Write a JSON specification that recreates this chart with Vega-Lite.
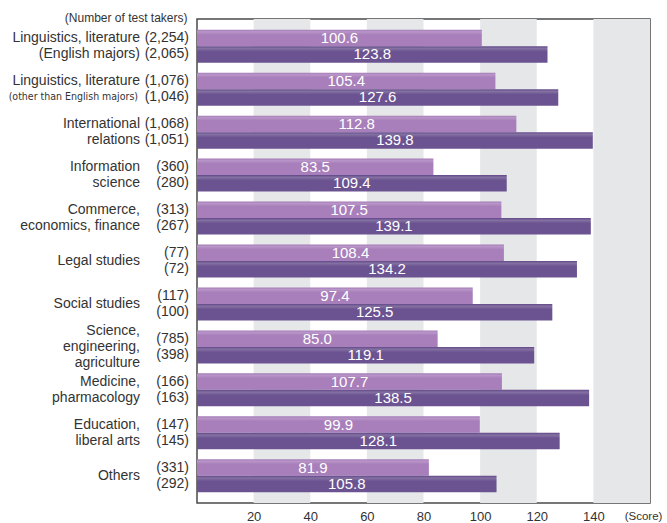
{
  "$schema": "https://vega.github.io/schema/vega-lite/v6.json",
  "width": 453,
  "height": 484,
  "autosize": {"type": "none"},
  "padding": {"left": 197, "top": 19, "right": 17, "bottom": 20},
  "background": "white",
  "config": {
    "view": {"stroke": "#4a4a4a", "strokeWidth": 1.5},
    "font": "Liberation Sans",
    "text": {"font": "Liberation Sans"}
  },
  "datasets": {
    "bands": [
      {"start": 20, "end": 40},
      {"start": 60, "end": 80},
      {"start": 100, "end": 120},
      {"start": 140, "end": 160}
    ],
    "cats": [
      {"cat": "ling_en", "name": "Linguistics, literature\n(English majors)"},
      {"cat": "ling_other", "name": "Linguistics, literature\n", "sub": "(other than English majors)"},
      {"cat": "intl", "name": "International\nrelations"},
      {"cat": "info", "name": "Information\nscience"},
      {"cat": "commerce", "name": "Commerce,\neconomics, finance"},
      {"cat": "legal", "name": "Legal studies"},
      {"cat": "social", "name": "Social studies"},
      {"cat": "science", "name": "Science,\nengineering,\nagriculture"},
      {"cat": "medicine", "name": "Medicine,\npharmacology"},
      {"cat": "education", "name": "Education,\nliberal arts"},
      {"cat": "others", "name": "Others"}
    ],
    "scores": [
      {"cat": "ling_en", "series": "A", "score": 100.6, "takers": "(2,254)"},
      {"cat": "ling_en", "series": "B", "score": 123.8, "takers": "(2,065)"},
      {"cat": "ling_other", "series": "A", "score": 105.4, "takers": "(1,076)"},
      {"cat": "ling_other", "series": "B", "score": 127.6, "takers": "(1,046)"},
      {"cat": "intl", "series": "A", "score": 112.8, "takers": "(1,068)"},
      {"cat": "intl", "series": "B", "score": 139.8, "takers": "(1,051)"},
      {"cat": "info", "series": "A", "score": 83.5, "takers": "(360)"},
      {"cat": "info", "series": "B", "score": 109.4, "takers": "(280)"},
      {"cat": "commerce", "series": "A", "score": 107.5, "takers": "(313)"},
      {"cat": "commerce", "series": "B", "score": 139.1, "takers": "(267)"},
      {"cat": "legal", "series": "A", "score": 108.4, "takers": "(77)"},
      {"cat": "legal", "series": "B", "score": 134.2, "takers": "(72)"},
      {"cat": "social", "series": "A", "score": 97.4, "takers": "(117)"},
      {"cat": "social", "series": "B", "score": 125.5, "takers": "(100)"},
      {"cat": "science", "series": "A", "score": 85.0, "takers": "(785)"},
      {"cat": "science", "series": "B", "score": 119.1, "takers": "(398)"},
      {"cat": "medicine", "series": "A", "score": 107.7, "takers": "(166)"},
      {"cat": "medicine", "series": "B", "score": 138.5, "takers": "(163)"},
      {"cat": "education", "series": "A", "score": 99.9, "takers": "(147)"},
      {"cat": "education", "series": "B", "score": 128.1, "takers": "(145)"},
      {"cat": "others", "series": "A", "score": 81.9, "takers": "(331)"},
      {"cat": "others", "series": "B", "score": 105.8, "takers": "(292)"}
    ]
  },
  "layer": [
    {
      "data": {"name": "bands"},
      "mark": {"type": "rect", "color": "#e6e7e9"},
      "encoding": {
        "x": {
          "field": "start", "type": "quantitative",
          "scale": {"domain": [0, 160], "nice": false, "zero": true},
          "axis": {
            "values": [20, 40, 60, 80, 100, 120, 140],
            "domain": false, "ticks": false, "grid": false,
            "labelFontSize": 13, "labelColor": "#333333", "labelPadding": 7,
            "labelFont": "Liberation Sans",
            "title": "(Score)", "titleFontSize": 11.5, "titleFontWeight": "normal",
            "titleColor": "#333333", "titleX": 446, "titleY": 13,
            "titleAlign": "center", "titleBaseline": "middle", "titleFont": "Liberation Sans"
          }
        },
        "x2": {"field": "end"}
      }
    },
    {
      "data": {"name": "scores"},
      "transform": [{"filter": "datum.series === 'A'"}],
      "mark": {
        "type": "bar",
        "color": {
          "gradient": "linear", "x1": 0, "y1": 0, "x2": 0, "y2": 1,
          "stops": [
            {"offset": 0, "color": "#a37bb6"},
            {"offset": 0.12, "color": "#b895c8"},
            {"offset": 0.3, "color": "#a87fba"},
            {"offset": 1, "color": "#a87fba"}
          ]
        }
      },
      "encoding": {
        "y": {
          "field": "cat", "type": "nominal", "sort": null,
          "scale": {
            "domain": ["ling_en", "ling_other", "intl", "info", "commerce", "legal", "social", "science", "medicine", "education", "others"],
            "paddingInner": 0.232, "paddingOuter": 0.25
          },
          "axis": {
            "labels": false, "domain": false, "ticks": false, "grid": false,
            "title": "(Number of test takers)", "titleAngle": 0, "titleAlign": "right",
            "titleBaseline": "middle", "titleX": -10, "titleY": -2,
            "titleFontSize": 12, "titleFontWeight": "normal", "titleColor": "#333333",
            "titleFont": "Liberation Sans"
          }
        },
        "yOffset": {"field": "series", "type": "nominal", "scale": {"domain": ["A", "B"], "paddingInner": 0, "paddingOuter": 0}},
        "x": {"field": "score", "type": "quantitative", "scale": {"domain": [0, 160], "nice": false, "zero": true}}
      }
    },
    {
      "data": {"name": "scores"},
      "transform": [{"filter": "datum.series === 'B'"}],
      "mark": {
        "type": "bar",
        "color": {
          "gradient": "linear", "x1": 0, "y1": 0, "x2": 0, "y2": 1,
          "stops": [
            {"offset": 0, "color": "#62498a"},
            {"offset": 0.14, "color": "#8471a2"},
            {"offset": 0.32, "color": "#6b5391"},
            {"offset": 1, "color": "#6b5391"}
          ]
        }
      },
      "encoding": {
        "y": {"field": "cat", "type": "nominal", "sort": null},
        "yOffset": {"field": "series", "type": "nominal", "scale": {"domain": ["A", "B"], "paddingInner": 0, "paddingOuter": 0}},
        "x": {"field": "score", "type": "quantitative", "scale": {"domain": [0, 160], "nice": false, "zero": true}}
      }
    },
    {
      "data": {"name": "scores"},
      "mark": {"type": "text", "color": "white", "fontSize": 15, "align": "center", "baseline": "middle", "font": "Liberation Sans"},
      "encoding": {
        "y": {"field": "cat", "type": "nominal", "sort": null},
        "yOffset": {"field": "series", "type": "nominal", "scale": {"domain": ["A", "B"], "paddingInner": 0, "paddingOuter": 0}},
        "x": {"field": "score", "type": "quantitative", "stack": "zero", "bandPosition": 0.5, "scale": {"domain": [0, 160], "nice": false, "zero": true}},
        "text": {"field": "score", "type": "quantitative", "format": ".1f"}
      }
    },
    {
      "data": {"name": "scores"},
      "mark": {"type": "text", "color": "#333333", "fontSize": 14, "align": "right", "baseline": "middle", "dx": -8, "font": "Liberation Sans"},
      "encoding": {
        "y": {"field": "cat", "type": "nominal", "sort": null},
        "yOffset": {"field": "series", "type": "nominal", "scale": {"domain": ["A", "B"], "paddingInner": 0, "paddingOuter": 0}},
        "x": {"datum": 0, "type": "quantitative", "scale": {"domain": [0, 160], "nice": false, "zero": true}},
        "text": {"field": "takers", "type": "nominal"}
      }
    },
    {
      "data": {"name": "cats"},
      "transform": [{"filter": "length(split(datum.name, '\\n')) === 1"}],
      "mark": {"type": "text", "color": "#333333", "fontSize": 14, "align": "right", "baseline": "middle", "dx": -57, "font": "Liberation Sans"},
      "encoding": {
        "y": {"field": "cat", "type": "nominal", "sort": null},
        "x": {"datum": 0, "type": "quantitative", "scale": {"domain": [0, 160], "nice": false, "zero": true}},
        "text": {"field": "name", "type": "nominal"}
      }
    },
    {
      "data": {"name": "cats"},
      "transform": [{"filter": "length(split(datum.name, '\\n')) === 2"}],
      "mark": {"type": "text", "color": "#333333", "fontSize": 14, "align": "right", "baseline": "middle", "dx": -57, "dy": -8, "lineBreak": "\n", "lineHeight": 16, "font": "Liberation Sans"},
      "encoding": {
        "y": {"field": "cat", "type": "nominal", "sort": null},
        "x": {"datum": 0, "type": "quantitative", "scale": {"domain": [0, 160], "nice": false, "zero": true}},
        "text": {"field": "name", "type": "nominal"}
      }
    },
    {
      "data": {"name": "cats"},
      "transform": [{"filter": "length(split(datum.name, '\\n')) === 3"}],
      "mark": {"type": "text", "color": "#333333", "fontSize": 14, "align": "right", "baseline": "middle", "dx": -57, "dy": -16, "lineBreak": "\n", "lineHeight": 16, "font": "Liberation Sans"},
      "encoding": {
        "y": {"field": "cat", "type": "nominal", "sort": null},
        "x": {"datum": 0, "type": "quantitative", "scale": {"domain": [0, 160], "nice": false, "zero": true}},
        "text": {"field": "name", "type": "nominal"}
      }
    },
    {
      "data": {"name": "cats"},
      "transform": [{"filter": "isValid(datum.sub)"}],
      "mark": {"type": "text", "color": "#333333", "fontSize": 10.5, "align": "right", "baseline": "middle", "dx": -59, "dy": 8, "font": "DejaVu Sans Condensed, Liberation Sans"},
      "encoding": {
        "y": {"field": "cat", "type": "nominal", "sort": null},
        "x": {"datum": 0, "type": "quantitative", "scale": {"domain": [0, 160], "nice": false, "zero": true}},
        "text": {"field": "sub", "type": "nominal"}
      }
    }
  ]
}
